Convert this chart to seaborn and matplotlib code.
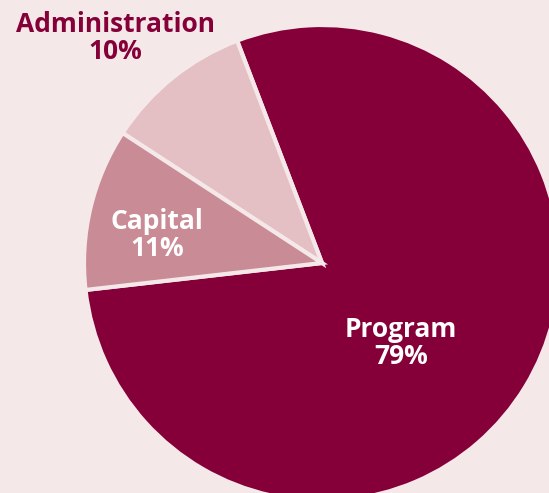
import matplotlib
matplotlib.use('Agg')
import matplotlib.pyplot as plt
import seaborn as sns

# доли бюджета
labels = ['Program', 'Administration', 'Capital']
shares = [79, 10, 11]
colors = ['#850038', '#e4c0c4', '#c98b95']
BG = '#f5e8e9'

sns.set_style('white')
plt.rcParams['font.family'] = ['Open Sans', 'DejaVu Sans']

fig = plt.figure(figsize=(5.49, 4.93), dpi=100, facecolor=BG)
ax = fig.add_axes([0, 0, 1, 1])
ax.set_facecolor(BG)

pal = sns.color_palette(colors)
ax.pie(shares, colors=pal, startangle=186.5, counterclock=True,
       center=(322, 230), radius=238,
       wedgeprops=dict(edgecolor=BG, linewidth=3))

ax.set_xlim(0, 549)
ax.set_ylim(0, 493)
ax.set_aspect('equal')
ax.axis('off')

txt = dict(ha='center', va='center', fontsize=19, fontweight='bold', linespacing=0.98)
ax.text(115, 455, f'{labels[1]}\n{shares[1]}%', color='#850038', **txt)
ax.text(157, 258, f'{labels[2]}\n{shares[2]}%', color='white', **txt)
ax.text(401, 150, f'{labels[0]}\n{shares[0]}%', color='white', **txt)

fig.savefig('out.png', dpi=100, facecolor=BG)
